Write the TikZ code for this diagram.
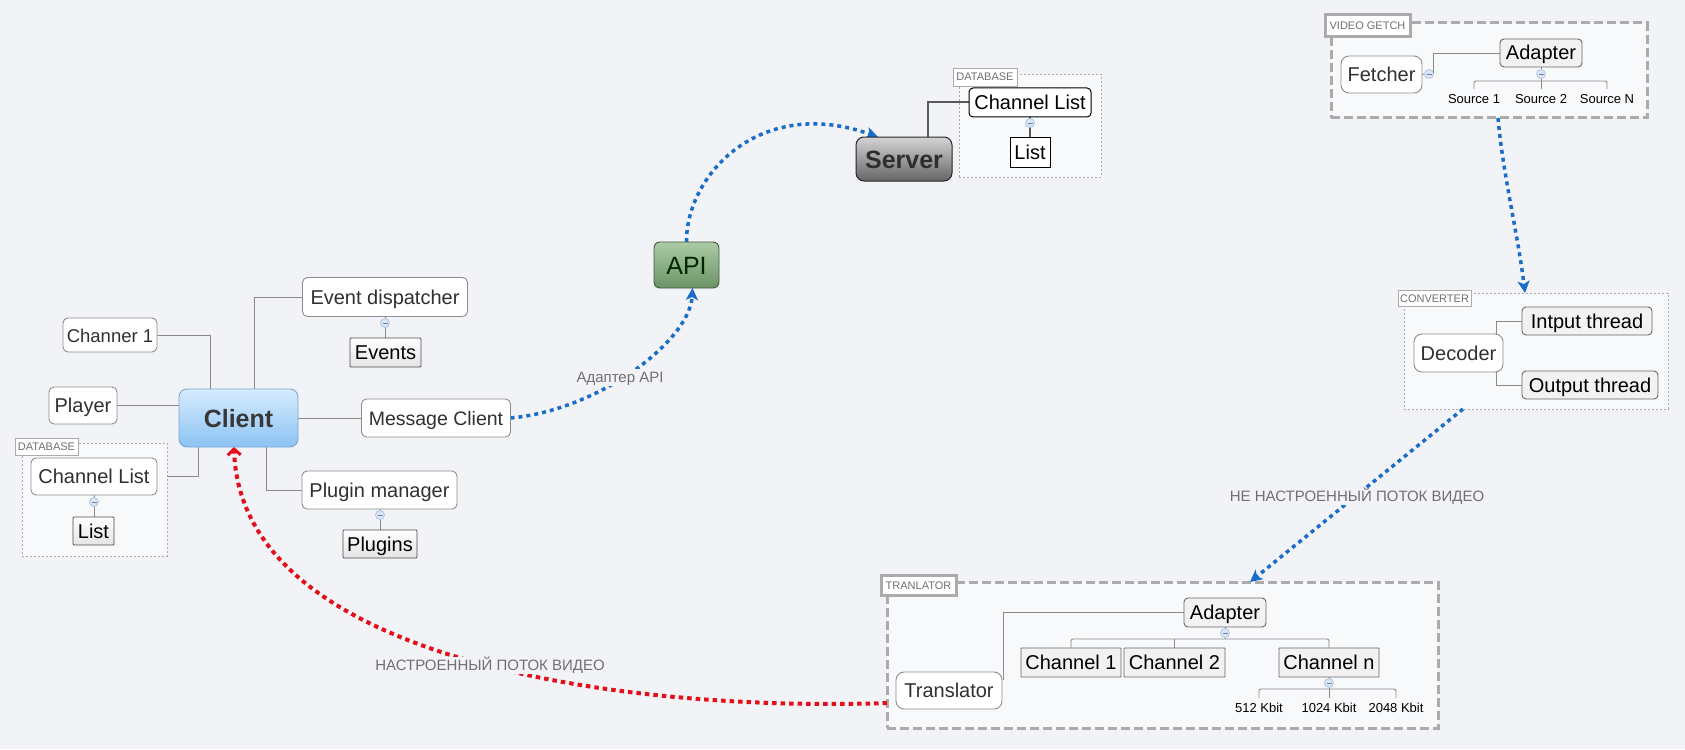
\documentclass[tikz,border=0pt]{standalone}
\usepackage{fontspec}
\setmainfont{Liberation Sans}
\usetikzlibrary{arrows.meta}
\pgfdeclarelayer{back}
\pgfdeclarelayer{lines}
\pgfsetlayers{back,lines,main}
\definecolor{bgc}{HTML}{F2F3F7}
\definecolor{contf}{HTML}{F8F9FB}
\definecolor{tbord}{HTML}{8C8C8C}
\definecolor{lineg}{HTML}{8A8A8A}
\definecolor{dashg}{HTML}{ABABAB}
\definecolor{labt}{HTML}{707070}
\definecolor{txt}{HTML}{303030}
\definecolor{arrb}{HTML}{1A6DC9}
\definecolor{arrr}{HTML}{E3101A}
\definecolor{leafg}{HTML}{E4E4E4}
\definecolor{collf}{HTML}{D9E6F7}
\definecolor{collb}{HTML}{A3BCDD}
\definecolor{cltop}{HTML}{D6ECFE}
\definecolor{clbot}{HTML}{8CC3F3}
\definecolor{clbord}{HTML}{7AA6CF}
\definecolor{svtop}{HTML}{D4D4D4}
\definecolor{svbot}{HTML}{656565}
\definecolor{aptop}{HTML}{ABCBA5}
\definecolor{apbot}{HTML}{6B9366}
\newcommand\fsz[1]{\fontsize{#1pt}{#1pt}\selectfont}
\begin{document}
\begin{tikzpicture}[x=1pt,y=-1pt,
  every node/.style={inner sep=0pt, outer sep=0pt},
  sz/.style 2 args={minimum width=#1pt, minimum height=#2pt},
  tx20/.style={font=\fsz{20}, text height=18pt, text depth=4pt},
  topic/.style={tx20, draw=tbord, fill=white, rounded corners=5pt, line width=0.9pt, text=txt},
  topicr/.style={topic, rounded corners=8pt},
  leafbox/.style={tx20, draw=black!70, top color=white, bottom color=leafg, rounded corners=1pt, line width=0.9pt, text=black},
  sub/.style={tx20, draw=black!60, fill=black!5, rounded corners=4pt, line width=0.9pt, text=black},
  chbox/.style={tx20, draw=black!60, fill=black!5, rounded corners=0.5pt, line width=0.9pt, text=black},
  dbtopic/.style={tx20, draw=black, fill=white, rounded corners=4pt, line width=1pt, text=black},
  dbleaf/.style={tx20, draw=black, fill=white, line width=1pt, text=black},
  clientbox/.style={draw=clbord, top color=cltop, bottom color=clbot, rounded corners=8pt, line width=0.9pt, font=\fsz{25}\bfseries, text=black!78, text height=22pt, text depth=4pt},
  serverbox/.style={draw=black!85, top color=svtop, bottom color=svbot, rounded corners=8pt, line width=1pt, font=\fsz{25}\bfseries, text=black!82, text height=22pt, text depth=4pt},
  apibox/.style={draw=black!40!apbot, top color=aptop, bottom color=apbot, rounded corners=6pt, line width=0.9pt, font=\fsz{25}, text=black!85!green, text height=22pt, text depth=4pt},
  thincont/.style={draw=dashg, fill=contf, line width=0.8pt, dash pattern=on 2pt off 2pt},
  thickcont/.style={draw=dashg, fill=contf, line width=3pt, dash pattern=on 9pt off 4pt},
  clab/.style={draw=dashg, fill=white, line width=0.8pt, text=labt, font=\fsz{11}, text height=8pt, text depth=0pt},
  cthick/.style={clab, line width=3pt},
  conn/.style={draw=lineg, line width=0.9pt},
  darkconn/.style={draw=black!65, line width=2pt},
  collapse/.style={circle, draw=collb, fill=collf, minimum size=9pt, line width=0.6pt,
    path picture={\draw[collb!70!black, line width=0.8pt] ([xshift=-2.5pt]path picture bounding box.center) -- ([xshift=2.5pt]path picture bounding box.center);}},
  small/.style={font=\fsz{13}, text=black, text height=12pt, text depth=3pt, inner ysep=2.5pt},
  bluearr/.style={draw=arrb, line width=3.5pt, dash pattern=on 4pt off 4pt, -{Stealth[length=12pt,width=12pt,inset=3pt]}},
  redarr/.style={draw=arrr, line width=4pt, dash pattern=on 4.5pt off 4pt, -{Straight Barb[length=6pt,width=13pt,line width=3pt]}},
  arrlab/.style={font=\fsz{15}, text=labt, fill=bgc, inner xsep=3pt, inner ysep=3pt, text height=11pt, text depth=0pt}
]
\useasboundingbox (0,0) rectangle (1685,749);
\begin{pgfonlayer}{back}
\fill[bgc] (0,0) rectangle (1685,749);
% containers
\node[thincont, sz={145}{113}] (dbl) at (94.5,499.5) {};
\node[clab, sz={63}{17}] (dbllab) at (46.5,446.5) {DATABASE};
\node[thincont, sz={142}{103}] (dbs) at (1030,125.5) {};
\node[clab, sz={64}{18}] (dbslab) at (985,77) {DATABASE};
\node[thickcont, sz={316}{95}] (vgc) at (1489,70.5) {};
\node[cthick, sz={85}{22}] (vglab) at (1367.5,26) {VIDEO GETCH};
\node[thincont, sz={264}{116}] (cvc) at (1536,351) {};
\node[clab, sz={73}{16}] (cvlab) at (1434.5,298) {CONVERTER};
\node[thickcont, sz={551}{146}] (trc) at (1162.5,655) {};
\node[cthick, sz={75}{20}] (trlab) at (918.5,585) {TRANLATOR};
\end{pgfonlayer}

% client cluster
\node[topic, sz={94}{34}, font=\fsz{18.5}] (chan1) at (110,335) {Channer 1};
\node[topic, sz={68}{37}] (player) at (83,405.5) {Player};
\node[clientbox, sz={119}{58}] (client) at (238.5,418) {Client};
\node[topic, sz={165}{39}] (evd) at (385,297) {Event dispatcher};
\node[leafbox, sz={71}{29}] (events) at (385.5,352.5) {Events};
\node[collapse] (evdc) at (385,323) {};
\node[topic, sz={149}{38}, font=\fsz{19.5}] (msg) at (436,418) {Message Client};
\node[topic, sz={155}{38}] (plugman) at (379.5,490) {Plugin manager};
\node[leafbox, sz={74}{28}] (plugins) at (380,544) {Plugins};
\node[collapse] (plugc) at (380,515) {};
\node[topic, sz={126}{37}] (chlist) at (94,476.5) {Channel List};
\node[leafbox, sz={41}{28}] (list) at (93.5,531) {List};
\node[collapse] (chlc) at (94,502) {};

% server cluster
\node[serverbox, sz={96}{44}] (server) at (904,159) {Server};
\node[dbtopic, sz={122}{29}] (chlist2) at (1030,102.5) {Channel List};
\node[dbleaf, sz={40}{30}] (list2) at (1030,152) {List};
\node[collapse] (chl2c) at (1030,123) {};

% api
\node[apibox, sz={65}{46}] (api) at (686.5,265) {API};

% video getch
\node[topicr, sz={81}{37}] (fetcher) at (1381.5,74.5) {Fetcher};
\node[sub, sz={82}{28}] (adapter1) at (1541,53) {Adapter};
\node[collapse] (fc) at (1429,74) {};
\node[collapse] (a1c) at (1541,74) {};
\coordinate (abr) at (1541,81);
\node[small] (s1) at (1474,99) {Source 1};
\node[small] (s2) at (1541,99) {Source 2};
\node[small] (sN) at (1607,99) {Source N};

% converter
\node[topicr, sz={89}{38}] (decoder) at (1458.5,353) {Decoder};
\node[sub, sz={130}{28}] (inth) at (1587,321) {Intput thread};
\node[sub, sz={136}{28}] (outth) at (1590,385) {Output thread};

% translator
\node[topicr, sz={106}{37}] (trans) at (949,690.5) {Translator};
\node[sub, sz={82}{29}] (adapter2) at (1225,612.5) {Adapter};
\node[collapse] (a2c) at (1225,633) {};
\coordinate (tbr) at (1225,639);
\node[chbox, sz={100}{29}] (ch1) at (1071,662.5) {Channel 1};
\node[chbox, sz={101}{29}] (ch2) at (1174.5,662.5) {Channel 2};
\node[chbox, sz={100}{29}] (chn) at (1329,662.5) {Channel n};
\node[collapse] (cnc) at (1329,683) {};
\coordinate (kbr) at (1329,689);
\node[small] (k1) at (1259,708) {512 Kbit};
\node[small] (k2) at (1329,708) {1024 Kbit};
\node[small] (k3) at (1396,708) {2048 Kbit};

\coordinate (redstart) at (887,703);

% arrow labels
\node[arrlab] (lblapi) at (620,377) {Адаптер API};
\node[arrlab] (lblne) at (1357,496) {НЕ НАСТРОЕННЫЙ ПОТОК ВИДЕО};
\node[arrlab] (lblok) at (490,665) {НАСТРОЕННЫЙ ПОТОК ВИДЕО};

\begin{pgfonlayer}{lines}
% client connectors
\draw[conn] ([xshift=31pt]client.north west) |- (chan1.east);
\draw[conn] ([xshift=75pt]client.north west) |- (evd.west);
\draw[conn] (player.east) -- (player.east -| client.west);
\draw[conn] (client.east) -- (msg.west);
\draw[conn] ([xshift=19pt]client.south west) |- (chlist.east -| dbl.east);
\draw[conn] ([xshift=87pt]client.south west) |- (plugman.west);
\draw[conn] (evd.south) -- (evd.south |- events.north);
\draw[conn] (plugman.south -| plugc) -- (plugc |- plugins.north);
\draw[conn] (chlist.south) -- (chlist.south |- list.north);
% server
\draw[darkconn] ([xshift=72pt]server.north west) |- (chlist2.west);
\draw[darkconn] (chlist2.south) -- (list2.north);
% video getch
\draw[conn] (fetcher.east) -- (fc.west);
\draw[conn] (fc.east) |- (adapter1.west);
\draw[conn] (adapter1.south) -- (a1c.north);
\draw[conn] (a1c.south) -- (s2.north);
\draw[conn, rounded corners=2pt] (s1.north) |- (abr) -| (sN.north);
% converter
\draw[conn] ([xshift=-7pt]decoder.north east) |- (inth.west);
\draw[conn] ([xshift=-7pt]decoder.south east) |- (outth.west);
% translator
\draw[conn] ([xshift=1pt,yshift=-8pt]trans.north east) |- (adapter2.west);
\draw[conn] (adapter2.south) -- (a2c.north);
\draw[conn] (a2c.south) -- (tbr);
\draw[conn, rounded corners=2pt] (ch1.north) |- (tbr) -| (chn.north);
\draw[conn, rounded corners=2pt] (ch2.north) -- (ch2.north |- tbr);
\draw[conn] (chn.south -| cnc) -- (cnc.north);
\draw[conn] (cnc.south) -- (k2.north);
\draw[conn, rounded corners=2pt] (k1.north) |- (kbr) -| (k3.north);
% flow arrows
\draw[bluearr] (msg.east) .. controls (600,410) and (690,340) .. ([xshift=6pt]api.south);
\draw[bluearr] (api.north) .. controls (686,175) and (760,95) .. ([xshift=22pt]server.north west);
\draw[bluearr] ([xshift=9pt]vgc.south) .. controls (1503,175) and (1518,235) .. ([xshift=-11pt]cvc.north);
\draw[bluearr] ([xshift=-73pt]cvc.south) -- ([xshift=87.5pt]trc.north);
\draw[redarr] (redstart) .. controls (620,712) and (240,660) .. ([xshift=55pt]client.south west);
\end{pgfonlayer}
\end{tikzpicture}
\end{document}
